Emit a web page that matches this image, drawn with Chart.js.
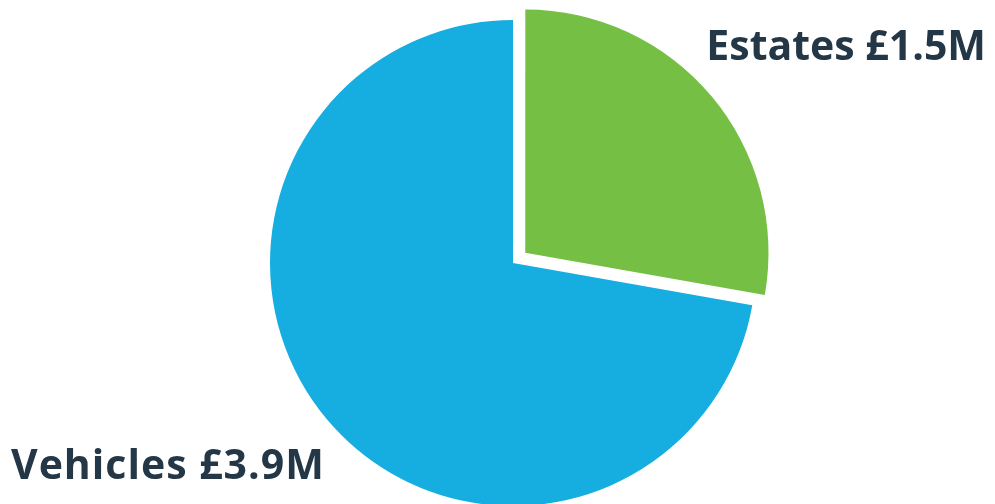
<!DOCTYPE html>
<html>
<head>
<meta charset="utf-8">
<script src="https://cdn.jsdelivr.net/npm/chart.js@4/dist/chart.umd.min.js"></script>
<style>
  html, body { margin: 0; padding: 0; background: #ffffff; }
  #wrap { width: 995px; height: 504px; position: relative; }
</style>
</head>
<body>
<div id="wrap"><canvas id="c" width="995" height="504"></canvas></div>
<script>
const categories = ["Estates", "Vehicles"];
const valueLabels = ["£1.5M", "£3.9M"];
const values = [1.5, 3.9];
const colors = ["#76bf45", "#16aee0"];
const offsets = [64, 0];

const labelPlugin = {
  id: 'cornerLabels',
  afterDraw(chart) {
    const ctx = chart.ctx;
    ctx.save();
    ctx.fillStyle = '#243746';
    ctx.font = '700 41px "Open Sans"';
    ctx.textBaseline = 'alphabetic';
    ctx.textAlign = 'right';
    ctx.fillText(categories[0] + ' ' + valueLabels[0], 986, 60);
    ctx.textAlign = 'left';
    if ('letterSpacing' in ctx) ctx.letterSpacing = '1px';
    ctx.fillText(categories[1] + ' ' + valueLabels[1], 11, 479);
    ctx.restore();
  }
};

new Chart(document.getElementById('c'), {
  type: 'pie',
  data: {
    labels: categories,
    datasets: [{
      data: values,
      backgroundColor: colors,
      hoverBackgroundColor: colors,
      borderWidth: 0,
      hoverBorderWidth: 0,
      offset: offsets,
      hoverOffset: offsets,
      clip: false
    }]
  },
  options: {
    responsive: false,
    animation: false,
    radius: 243,
    layout: { padding: { left: 31, right: 0, top: 22, bottom: 0 } },
    plugins: { legend: { display: false }, tooltip: { enabled: false } }
  },
  plugins: [labelPlugin]
});
</script>
</body>
</html>
